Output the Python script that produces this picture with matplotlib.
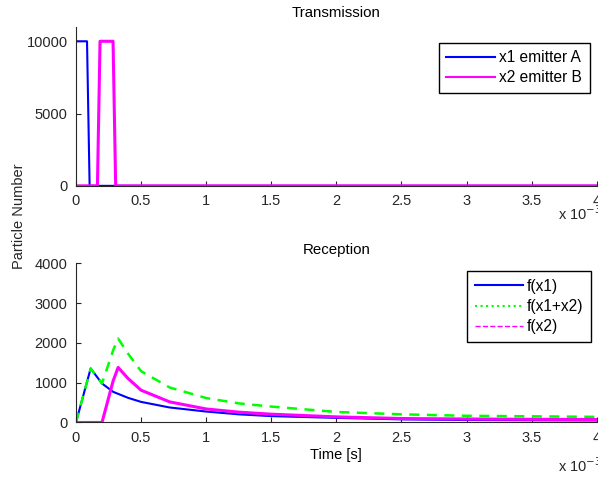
import numpy as np
import matplotlib.pyplot as plt
from matplotlib.lines import Line2D

plt.rcParams['font.family'] = ['Liberation Sans', 'DejaVu Sans']
plt.rcParams['font.size'] = 10.5

# transmission pulses (time in ms)
tx_time_a = [0, 0.085, 0.095, 0.105, 4.0]
tx_a = [10000, 10000, 5000, 0, 0]
tx_time_b = [0, 0.165, 0.175, 0.185, 0.285, 0.295, 0.305, 4.0]
tx_b = [0, 0, 5000, 10000, 10000, 5000, 0, 0]

# reception (time in ms)
rx_time = [0, 0.113, 0.2, 0.286, 0.324, 0.4, 0.5, 0.72, 1.0, 1.25, 1.5, 2.0, 2.5, 3.0, 3.5, 4.0]
f_x1 = [0, 1358, 981, 770, 720, 620, 518, 377, 275, 205, 160, 116, 78, 62, 55, 50]
f_x2 = [0, 0, 0, 1050, 1384, 1107, 812, 518, 340, 260, 209, 141, 100, 88, 80, 75]
f_sum = [0, 1358, 981, 1820, 2113, 1730, 1290, 880, 615, 480, 400, 265, 205, 168, 155, 141]

xtick_vals = [0, 0.5, 1, 1.5, 2, 2.5, 3, 3.5, 4]
xtick_labels = ['0', '0.5', '1', '1.5', '2', '2.5', '3', '3.5', '4']

blue = '#0000ff'
green = '#00ff00'
magenta = '#ff00ff'

fig = plt.figure(figsize=(5.98, 4.79), dpi=100)
ax1 = fig.add_axes([0.127, 0.612, 0.871, 0.332])
ax2 = fig.add_axes([0.127, 0.118, 0.871, 0.332])


def style_axes(ax):
    for s in ['top', 'right']:
        ax.spines[s].set_visible(False)
    for s in ['left', 'bottom']:
        ax.spines[s].set_color('#262626')
    ax.tick_params(direction='in', length=3.5, pad=6, colors='#262626', labelcolor='#262626')
    ax.set_xlim(0, 4e-3)
    ax.set_xticks(np.array(xtick_vals) * 1e-3)
    ax.set_xticklabels(xtick_labels)


legend_kw = dict(loc='upper right', borderaxespad=0, fancybox=False,
                 edgecolor='black', framealpha=1, fontsize=11.2,
                 handlelength=3.1, labelspacing=0.33, borderpad=0.5)

# top panel
ax1.plot(np.array(tx_time_a) * 1e-3, tx_a, color=blue, lw=1.5)
ax1.plot(np.array(tx_time_b) * 1e-3, tx_b, color=magenta, lw=2.2)
style_axes(ax1)
ax1.set_ylim(0, 11000)
ax1.set_yticks([0, 5000, 10000])
ax1.set_title('Transmission', pad=7, fontsize=10.8)
top_handles = [Line2D([], [], color=blue, lw=1.5),
               Line2D([], [], color=magenta, lw=1.5)]
ax1.legend(top_handles, ['x1 emitter A', 'x2 emitter B'],
           bbox_to_anchor=(0.987, 0.901), handletextpad=0.3, **legend_kw)

# bottom panel
t_rx = np.array(rx_time) * 1e-3
ax2.plot(t_rx, f_x1, color=blue, lw=1.5)
ax2.plot(t_rx, f_sum, color=green, lw=1.8, linestyle=(0, (4, 3)))
ax2.plot(t_rx, f_x2, color=magenta, lw=2.2)
style_axes(ax2)
ax2.set_ylim(0, 4000)
ax2.set_yticks([0, 1000, 2000, 3000, 4000])
ax2.set_title('Reception', pad=7, fontsize=10.8)
ax2.set_xlabel('Time [s]', labelpad=2)

handles = [
    Line2D([], [], color=blue, lw=1.5),
    Line2D([], [], color=green, lw=1.5, linestyle=':'),
    Line2D([], [], color=magenta, lw=1.0, linestyle='--'),
]
ax2.legend(handles, ['f(x1)', 'f(x1+x2)', 'f(x2)'],
           bbox_to_anchor=(0.988, 0.952), handletextpad=0.2, **legend_kw)

for ypix in [214, 466]:
    fig.text(558 / 598, 1 - ypix / 479, r'x 10$^{-3}$', ha='left', va='center',
             color='#262626')

fig.text(19 / 598, 1 - 216 / 479, 'Particle Number', rotation=90,
         ha='center', va='center', color='#262626')

fig.savefig('out.png', dpi=100)
